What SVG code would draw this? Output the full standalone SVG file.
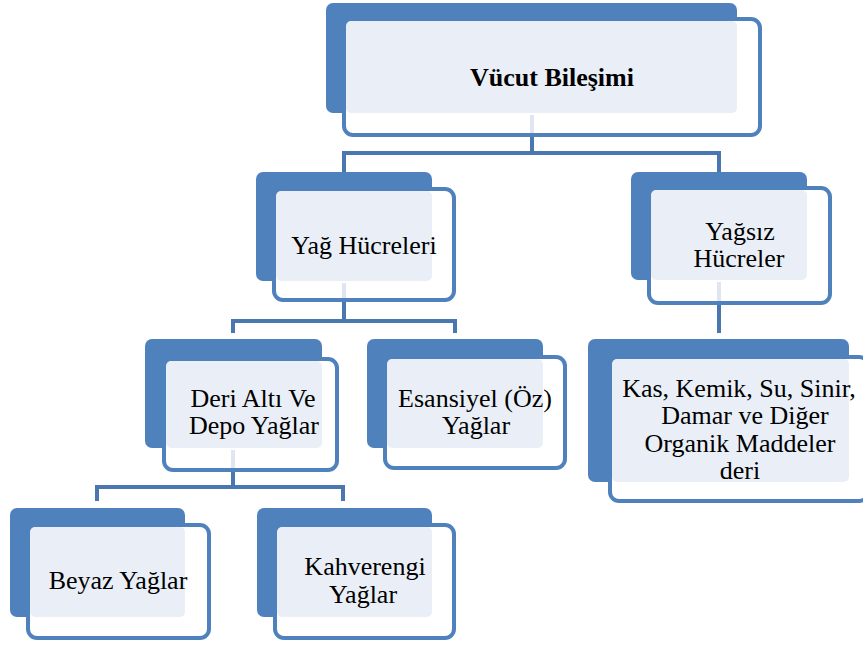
<svg xmlns="http://www.w3.org/2000/svg" width="863" height="645" viewBox="0 0 863 645">
<style>
.back{fill:#4f81bd}
.front{fill:#ffffff;stroke:#4f81bd;stroke-width:4}
.panel{fill:#eaeff7}
.faint{stroke:#dfe6f1;stroke-width:4;fill:none}
.conn{stroke:#4a77b0;stroke-width:4;fill:none}
.t{font-family:'Liberation Serif','DejaVu Serif',serif;font-size:26px;fill:#000000;text-anchor:middle}
.bold{font-weight:bold;font-size:26px}
</style>
<rect width="863" height="645" fill="#ffffff"/>
<g id="connectors">
<path class="conn" d="M532,137 V153 M344,172 V153 H719 V172"/>
<path class="conn" d="M344,302 V321 M233,333 V321 H455 V333"/>
<path class="conn" d="M719,305 V333"/>
<path class="conn" d="M233,472 V487 M97,501 V487 H343 V501"/>
</g>
<g id="n-vucut">
<rect class="back" x="326" y="3" width="411" height="110" rx="7"/>
<rect class="front" x="344" y="19" width="416" height="116" rx="9"/>
<rect class="panel" x="346" y="21" width="391" height="92" rx="5"/>
<line class="faint" x1="532" y1="115" x2="532" y2="133"/>
<text class="t bold" x="552" y="86">Vücut Bileşimi</text>
</g>
<g id="n-yag">
<rect class="back" x="256" y="172" width="176" height="109" rx="7"/>
<rect class="front" x="274" y="189" width="180" height="111" rx="9"/>
<rect class="panel" x="276" y="191" width="156" height="90" rx="5"/>
<line class="faint" x1="344" y1="283" x2="344" y2="298"/>
<text class="t" x="364" y="254">Yağ Hücreleri</text>
</g>
<g id="n-yagsiz">
<rect class="back" x="631" y="172" width="176" height="108" rx="7"/>
<rect class="front" x="649" y="188" width="181" height="115" rx="9"/>
<rect class="panel" x="651" y="190" width="156" height="90" rx="5"/>
<line class="faint" x1="719" y1="282" x2="719" y2="301"/>
<text class="t" x="740" y="240">Yağsız</text>
<text class="t" x="739" y="267">Hücreler</text>
</g>
<g id="n-deri">
<rect class="back" x="145" y="339" width="177" height="109" rx="7"/>
<rect class="front" x="164" y="359" width="173" height="111" rx="9"/>
<rect class="panel" x="166" y="361" width="156" height="87" rx="5"/>
<line class="faint" x1="233" y1="450" x2="233" y2="468"/>
<text class="t" x="253" y="407">Deri Altı Ve</text>
<text class="t" x="254" y="434">Depo Yağlar</text>
</g>
<g id="n-esansiyel">
<rect class="back" x="367" y="339" width="176" height="109" rx="7"/>
<rect class="front" x="385" y="357" width="180" height="111" rx="9"/>
<rect class="panel" x="387" y="359" width="156" height="89" rx="5"/>
<text class="t" x="475" y="407">Esansiyel (Öz)</text>
<text class="t" x="476" y="434">Yağlar</text>
</g>
<g id="n-kas">
<rect class="back" x="588" y="339" width="261" height="143" rx="7"/>
<rect class="front" x="610" y="357" width="258" height="144" rx="9"/>
<rect class="panel" x="612" y="359" width="237" height="123" rx="5"/>
<text class="t" x="739" y="397">Kas, Kemik, Su, Sinir,</text>
<text class="t" x="745" y="424">Damar ve Diğer</text>
<text class="t" x="740" y="452">Organik Maddeler</text>
<text class="t" x="740" y="479">deri</text>
</g>
<g id="n-beyaz">
<rect class="back" x="10" y="508" width="175" height="109" rx="7"/>
<rect class="front" x="28" y="525" width="181" height="113" rx="9"/>
<rect class="panel" x="30" y="527" width="155" height="90" rx="5"/>
<text class="t" x="118" y="589">Beyaz Yağlar</text>
</g>
<g id="n-kahverengi">
<rect class="back" x="257" y="508" width="175" height="109" rx="7"/>
<rect class="front" x="275" y="525" width="179" height="113" rx="9"/>
<rect class="panel" x="277" y="527" width="155" height="90" rx="5"/>
<text class="t" x="365" y="575">Kahverengi</text>
<text class="t" x="363" y="603">Yağlar</text>
</g>
</svg>
